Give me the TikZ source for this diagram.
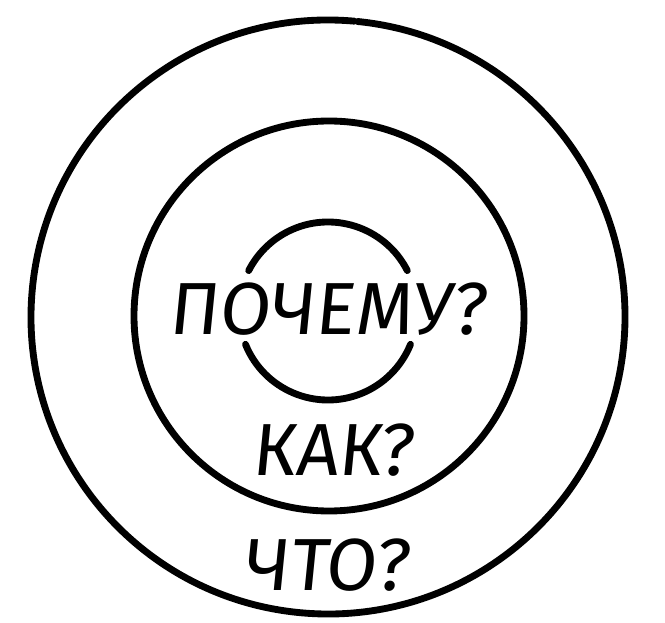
\documentclass[tikz,border=0pt]{standalone}
\usepackage{fontspec}
\newfontfamily\handfont[FakeSlant=0.1]{Fira Sans}
\usepackage{tikz}
\tikzstyle{ring}=[draw=black,line width=3.9pt,line cap=round]
\tikzstyle{lbl}=[font=\handfont\fontsize{42}{42}\selectfont,inner sep=0pt]
\begin{document}
\begin{tikzpicture}[x=0.02cm, y=0.02cm]
            \useasboundingbox (0, 0) rectangle (665, 622);
            \draw [style=ring] (328, 305) ++(84.9:297) arc (84.9:444.3:297);
            \draw [style=ring] (329, 306) circle (195);
            \draw [style=ring] (328, 311) ++(27:89) arc (27:153:89);
            \draw [style=ring] (328, 311) ++(202:89) arc (202:338:89);
            \node [style=lbl] (0) at (327, 313) {ПОЧЕМУ?};
            \node [style=lbl] (1) at (332, 172) {КАК?};
            \node [style=lbl] (2) at (326, 57) {ЧТО?};
    \end{tikzpicture}
\end{document}
